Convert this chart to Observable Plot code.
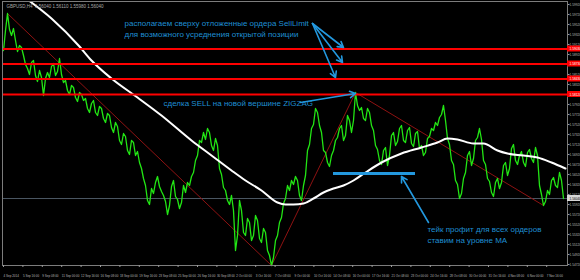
<!DOCTYPE html>
<html><head><meta charset="utf-8">
<script src="https://cdn.jsdelivr.net/npm/d3@7"></script>
<script src="https://cdn.jsdelivr.net/npm/@observablehq/plot@0.6"></script>
<style>html,body{margin:0;padding:0;background:#000;} #chart svg{display:block}</style>
</head><body><div id="chart"></div>
<script>
const header = "GBPUSD,H4  1.56040 1.56110 1.55980 1.56040";
// close prices of the even H4 bars (0, 2, 4, ...)
const closesEven = [
1.5900,1.5974,1.5930,1.5920,1.5910,1.5890,1.5864,1.5876,1.5850,1.5860,
1.5810,1.5856,1.5868,1.5850,1.5884,1.5836,1.5820,1.5830,1.5806,1.5816,
1.5800,1.5784,1.5794,1.5776,1.5788,1.5764,1.5774,1.5746,1.5756,1.5720,
1.5734,1.5700,1.5720,1.5690,1.5676,1.5644,1.5600,1.5624,1.5636,1.5628,
1.5610,1.5572,1.5628,1.5608,1.5584,1.5630,1.5636,1.5648,1.5680,1.5720,
1.5736,1.5744,1.5710,1.5724,1.5664,1.5626,1.5600,1.5610,1.5500,1.5600,
1.5536,1.5564,1.5520,1.5570,1.5524,1.5544,1.5500,1.5470,1.5520,1.5556,
1.5594,1.5630,1.5640,1.5648,1.5610,1.5630,1.5700,1.5744,1.5784,1.5750,
1.5700,1.5676,1.5690,1.5720,1.5744,1.5720,1.5770,1.5736,1.5816,1.5780,
1.5764,1.5784,1.5750,1.5710,1.5680,1.5700,1.5670,1.5730,1.5710,1.5744,
1.5720,1.5740,1.5714,1.5734,1.5704,1.5690,1.5724,1.5744,1.5756,1.5766,
1.5790,1.5724,1.5680,1.5640,1.5604,1.5644,1.5690,1.5670,1.5720,1.5744,
1.5680,1.5644,1.5616,1.5636,1.5624,1.5670,1.5650,1.5704,1.5680,1.5690,
1.5676,1.5696,1.5684,1.5706,1.5630,1.5590,1.5620,1.5640,1.5630,1.5656,
1.5604];
// close prices of the odd H4 bars (1, 3, 5, ...)
const closesOdd = [
1.5940,1.5942,1.5944,1.5898,1.5906,1.5872,1.5852,1.5880,1.5838,1.5846,
1.5844,1.5846,1.5874,1.5858,1.5852,1.5840,1.5812,1.5826,1.5798,1.5812,
1.5804,1.5776,1.5800,1.5770,1.5784,1.5756,1.5770,1.5736,1.5748,1.5712,
1.5728,1.5692,1.5716,1.5698,1.5664,1.5630,1.5592,1.5614,1.5648,1.5618,
1.5598,1.5590,1.5640,1.5602,1.5596,1.5616,1.5630,1.5656,1.5690,1.5716,
1.5722,1.5736,1.5700,1.5710,1.5652,1.5620,1.5592,1.5580,1.5530,1.5580,
1.5530,1.5556,1.5530,1.5560,1.5516,1.5536,1.5490,1.5486,1.5530,1.5566,
1.5604,1.5620,1.5632,1.5640,1.5600,1.5650,1.5712,1.5752,1.5776,1.5736,
1.5696,1.5668,1.5700,1.5726,1.5750,1.5730,1.5760,1.5760,1.5790,1.5786,
1.5760,1.5776,1.5740,1.5702,1.5672,1.5706,1.5690,1.5736,1.5718,1.5750,
1.5716,1.5746,1.5708,1.5738,1.5710,1.5696,1.5728,1.5740,1.5750,1.5772,
1.5760,1.5712,1.5672,1.5632,1.5614,1.5656,1.5698,1.5684,1.5726,1.5722,
1.5672,1.5638,1.5608,1.5644,1.5636,1.5676,1.5664,1.5712,1.5672,1.5698,
1.5668,1.5702,1.5676,1.5690,1.5612,1.5598,1.5612,1.5646,1.5626,1.5640];
// moving average
const maBars = [12,24,38,44,54,67,79,94,104,114,121,129,137,141,145,150,155,160,165,170,175,181,189,199,209,217,222,227,235,240,247,252,260,267,274,281];
const maValues = [1.6002,1.5964,1.5908,1.5880,1.5844,1.5806,1.5770,1.5720,1.5690,1.5660,1.5640,1.5620,1.5596,1.5592,1.5592,1.5594,1.5604,1.5616,1.5624,1.5630,1.5640,1.5656,1.5676,1.5694,1.5706,1.5716,1.5724,1.5722,1.5714,1.5714,1.5700,1.5694,1.5690,1.5686,1.5676,1.5664];
// zigzag
const zigzagBars = [2,134,176,270];
const zigzagPrices = [1.5974,1.5470,1.5816,1.5590];
// levels
const sellLimitLevels = [1.5903,1.5873,1.5843];
const sellLevel = 1.5812;
const currentPrice = 1.5604;
const tpLevel = 1.5654;
const tpBars = [165,206];
// axis
const priceTicks = [1.5992,1.5972,1.5952,1.5932,1.5912,1.5892,1.5872,1.5852,1.5832,1.5812,1.5792,1.5772,1.5752,1.5732,1.5712,1.5692,1.5672,1.5652,1.5632,1.5612,1.5592,1.5572,1.5552,1.5532,1.5512,1.5492,1.5472];
const timeTickBars = [-0.5,9.2,18.9,28.6,38.3,48,57.7,67.4,77.1,86.8,96.5,106.2,115.9,125.6,135.3,145,154.7,164.4,174.1,183.8,193.5,203.2,212.9,222.6,232.3,242,251.7,261.4,271.1];
const timeLabels = ["4 Sep 2014","5 Sep 16:00","9 Sep 08:00","11 Sep 00:00","12 Sep 16:00","16 Sep 08:00","18 Sep 00:00","19 Sep 16:00","23 Sep 08:00","25 Sep 00:00","26 Sep 16:00","30 Sep 08:00","2 Oct 00:00","3 Oct 16:00","7 Oct 08:00","9 Oct 00:00","10 Oct 16:00","14 Oct 08:00","16 Oct 00:00","17 Oct 16:00","21 Oct 08:00","23 Oct 00:00","24 Oct 16:00","28 Oct 08:00","30 Oct 00:00","31 Oct 16:00","4 Nov 08:00","6 Nov 00:00","7 Nov 16:00"];
// annotations
const noteTexts = ["располагаем сверху отложенные ордера SellLimit","для возможного усреднения открытой позиции","сделка SELL на новой вершине ZIGZAG","тейк профит для всех ордеров","ставим на уровне МА"];
const noteBars = [60.5,60.5,80,212,212];
const notePrices = [1.5954,1.5932,1.5794,1.5542,1.5520];
const arrowFromBars = [154.5,154.5,154.5,148.5,212.5];
const arrowFromPrices = [1.5954,1.5954,1.5954,1.5796,1.5556];
const arrowToBars = [170,169.5,166,176,199];
const arrowToPrices = [1.5906,1.5876,1.5846,1.5814,1.5648];

const fmt = d3.format(".5f");
const priceData = [];
closesEven.forEach((c,i)=>{
  priceData.push({bar:2*i, price:c});
  if (i < closesOdd.length) priceData.push({bar:2*i+1, price:closesOdd[i]});
});
const maData = maBars.map((b,i)=>({bar:b, price:maValues[i]}));
const zzData = zigzagBars.map((b,i)=>({bar:b, price:zigzagPrices[i]}));
const levels = [...sellLimitLevels, sellLevel];
const notes = noteTexts.map((t,i)=>({text:t, bar:noteBars[i], price:notePrices[i]}));
const arrows = arrowFromBars.map((b,i)=>({x1:b, y1:arrowFromPrices[i], x2:arrowToBars[i], y2:arrowToPrices[i]}));
const labelOf = new Map(timeTickBars.map((b,i)=>[b,timeLabels[i]]));
const blue = "#2398de";

const chart = Plot.plot({
  width:580, height:280,
  marginLeft:2, marginRight:13, marginTop:1, marginBottom:15,
  style:{background:"#000", color:"#b8b8b8", fontFamily:"'Liberation Sans', Arial, sans-serif"},
  x:{domain:[-0.5,282], axis:null},
  y:{domain:[1.547,1.5998], axis:null},
  marks:[
    Plot.ruleY([currentPrice], {stroke:"#4a5662", strokeWidth:1}),
    Plot.line(zzData, {x:"bar", y:"price", stroke:"#8e1212", strokeWidth:1}),
    Plot.line(priceData, {x:"bar", y:"price", stroke:"#22e614", strokeWidth:1.3}),
    Plot.line(maData, {x:"bar", y:"price", stroke:"#ffffff", strokeWidth:2, curve:"monotone-x", clip:true}),
    Plot.ruleY(levels, {stroke:"#ff0000", strokeWidth:2}),
    Plot.ruleY([tpLevel], {x1:tpBars[0], x2:tpBars[1], stroke:blue, strokeWidth:3}),
    Plot.arrow(arrows, {x1:"x1", y1:"y1", x2:"x2", y2:"y2", stroke:blue, strokeWidth:1.6, headLength:6, bend:0}),
    Plot.text(notes, {x:"bar", y:"price", text:"text", textAnchor:"start", fill:"#1f8fd2", fontSize:8}),
    Plot.frame({stroke:"#7c7c7c"}),
    Plot.axisY(priceTicks, {anchor:"right", tickSize:1.5, tickPadding:0.5, fontSize:3.2, tickFormat:fmt, stroke:"#9a9a9a"}),
    Plot.axisX(timeTickBars, {anchor:"bottom", tickSize:2, tickPadding:7, fontSize:3, textAnchor:"start", dx:1, tickFormat:d=>labelOf.get(d), stroke:"#9a9a9a"}),
    Plot.rect(levels, {x1:282, x2:292, y1:d=>d-0.0006, y2:d=>d+0.0006, fill:"#ff0000"}),
    Plot.text(levels, {frameAnchor:"right", y:d=>d, text:d=>fmt(d), textAnchor:"start", dx:2, fontSize:3.2, fill:"#ffffff"}),
    Plot.rect([currentPrice], {x1:282, x2:292, y1:d=>d-0.0006, y2:d=>d+0.0006, fill:"#d6d6d6"}),
    Plot.text([currentPrice], {frameAnchor:"right", y:d=>d, text:d=>fmt(d), textAnchor:"start", dx:2, fontSize:3.2, fill:"#000"}),
    Plot.text([header], {frameAnchor:"top-left", dx:4, dy:3, lineAnchor:"top", textAnchor:"start", fontSize:4.5, fill:"#a8a8a8"})
  ]
});
document.getElementById("chart").append(chart);
</script></body></html>
